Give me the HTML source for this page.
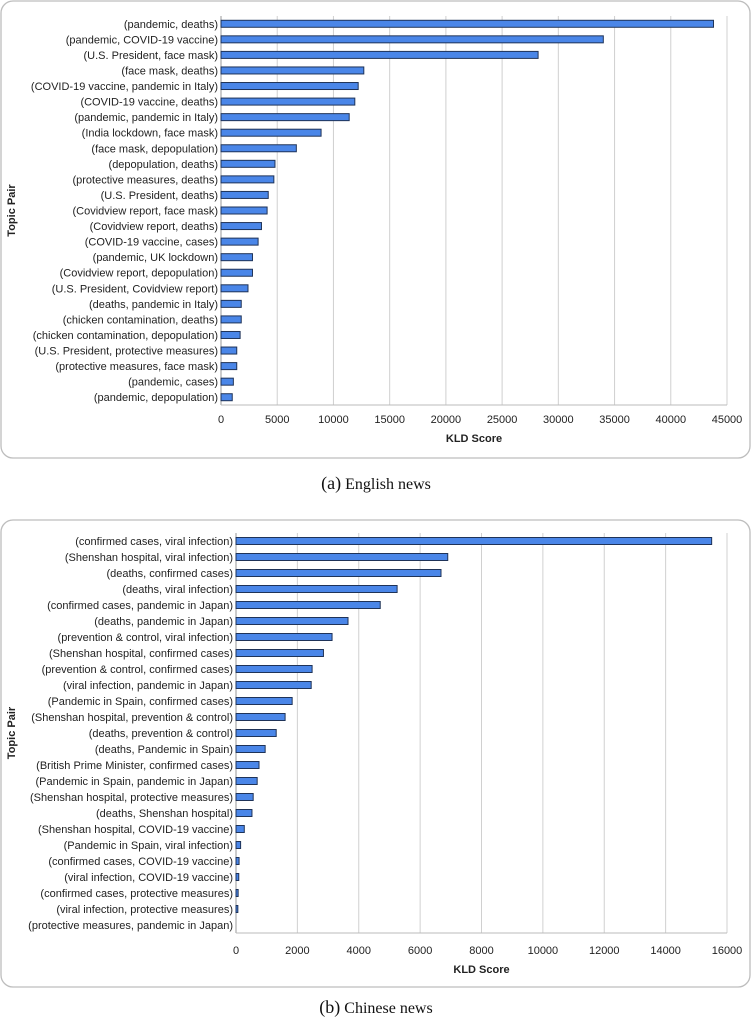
<!DOCTYPE html>
<html><head><meta charset="utf-8"><style>
body{margin:0;background:#fff;width:752px;height:1024px;overflow:hidden}
svg{display:block}
text{font-family:"Liberation Sans",sans-serif}
</style></head><body>
<svg id="s" width="752" height="1024"></svg>
<script>
const catsA=["(pandemic, deaths)","(pandemic, COVID-19 vaccine)","(U.S. President, face mask)","(face mask, deaths)","(COVID-19 vaccine, pandemic in Italy)","(COVID-19 vaccine, deaths)","(pandemic, pandemic in Italy)","(India lockdown, face mask)","(face mask, depopulation)","(depopulation, deaths)","(protective measures, deaths)","(U.S. President, deaths)","(Covidview report, face mask)","(Covidview report, deaths)","(COVID-19 vaccine, cases)","(pandemic, UK lockdown)","(Covidview report, depopulation)","(U.S. President, Covidview report)","(deaths, pandemic in Italy)","(chicken contamination, deaths)","(chicken contamination, depopulation)","(U.S. President, protective measures)","(protective measures, face mask)","(pandemic, cases)","(pandemic, depopulation)"];
const valsA=[43800,34000,28200,12700,12200,11900,11400,8900,6700,4800,4700,4200,4100,3600,3300,2800,2800,2400,1800,1800,1700,1400,1400,1100,1000];
const ticksA=[0,5000,10000,15000,20000,25000,30000,35000,40000,45000];
const catsB=["(confirmed cases, viral infection)","(Shenshan hospital, viral infection)","(deaths, confirmed cases)","(deaths, viral infection)","(confirmed cases, pandemic in Japan)","(deaths, pandemic in Japan)","(prevention & control, viral infection)","(Shenshan hospital, confirmed cases)","(prevention & control, confirmed cases)","(viral infection, pandemic in Japan)","(Pandemic in Spain, confirmed cases)","(Shenshan hospital, prevention & control)","(deaths, prevention & control)","(deaths, Pandemic in Spain)","(British Prime Minister, confirmed cases)","(Pandemic in Spain, pandemic in Japan)","(Shenshan hospital, protective measures)","(deaths, Shenshan hospital)","(Shenshan hospital, COVID-19 vaccine)","(Pandemic in Spain, viral infection)","(confirmed cases, COVID-19 vaccine)","(viral infection, COVID-19 vaccine)","(confirmed cases, protective measures)","(viral infection, protective measures)","(protective measures, pandemic in Japan)"];
const valsB=[15500,6900,6680,5250,4700,3650,3130,2850,2480,2450,1830,1600,1310,950,750,690,560,520,270,150,100,90,70,60,0];
const ticksB=[0,2000,4000,6000,8000,10000,12000,14000,16000];
const NS="http://www.w3.org/2000/svg";
const svg=document.getElementById('s');
function mk(tag,at,parent){const e=document.createElementNS(NS,tag);for(const k in at)e.setAttribute(k,at[k]);(parent||svg).appendChild(e);return e;}
function chart(id,cats,vals,ticks,box,x0,x1,top,bottom,tickY,titleY,capY,capLetter,capText){
  const g=mk('g',{});
  
  
  const fr=mk('rect',{x:box[0],y:box[1],width:box[2],height:box[3],rx:12,fill:'none',stroke:'#bdbdbd','stroke-width':1.3},g);
  
  
  const max=ticks[ticks.length-1];
  const xs=v=>x0+(x1-x0)*v/max;
  const band=(bottom-top)/cats.length;
  ticks.forEach(t=>{
    if(t>0){const l=mk('line',{x1:xs(t),x2:xs(t),y1:top,y2:bottom,stroke:'#d0d0d0','stroke-width':1},g);
    
    }
    const tx=mk('text',{x:xs(t),y:tickY,'font-size':11,'text-anchor':'middle',fill:'#222'},g);
    tx.textContent=t;
    
    
  });
  const ax=mk('line',{x1:x0,x2:x0,y1:top,y2:bottom,stroke:'#999'},g);
  
  
  const bx=mk('line',{x1:x0,x2:x1,y1:bottom,y2:bottom,stroke:'#bbb'},g);
  
  
  cats.forEach((c,i)=>{
    const cy=top+band*(i+0.5);
    const t=mk('text',{x:x0-3,y:cy+4,'font-size':11,'text-anchor':'end',fill:'#222'},g);
    t.textContent=c;
    
    
    if(vals[i]>0){
      const r=mk('rect',{x:x0,y:cy-3.5,width:Math.max(xs(vals[i])-x0,1),height:7,fill:'#4a86e8',stroke:'#1f3358','stroke-width':1},g);
      
      
    }
  });
  const yt=mk('text',{x:0,y:0,'font-size':11,'font-weight':'bold','text-anchor':'middle',fill:'#222',transform:`translate(15,${(top+bottom)/2}) rotate(-90)`},g);
  yt.textContent='Topic Pair';
  
  
  const xt=mk('text',{x:(x0+x1)/2,y:titleY,'font-size':11,'font-weight':'bold','text-anchor':'middle',fill:'#222'},g);
  xt.textContent='KLD Score';
  
  
  const cp=mk('text',{x:376,y:capY,'font-size':16,'text-anchor':'middle',fill:'#111'},g);
  cp.innerHTML='<tspan font-size="18">('+capLetter+')</tspan> '+capText;
  cp.style.fontFamily='"Liberation Serif",serif';
  
  
}
chart('english',catsA,valsA,ticksA,[1,1,749,457],221,727,16,405,423,442,489,'a','English news');
chart('chinese',catsB,valsB,ticksB,[1,520,749,467],236,727,533,933,954,973,1013,'b','Chinese news');
</script>
</body></html>
